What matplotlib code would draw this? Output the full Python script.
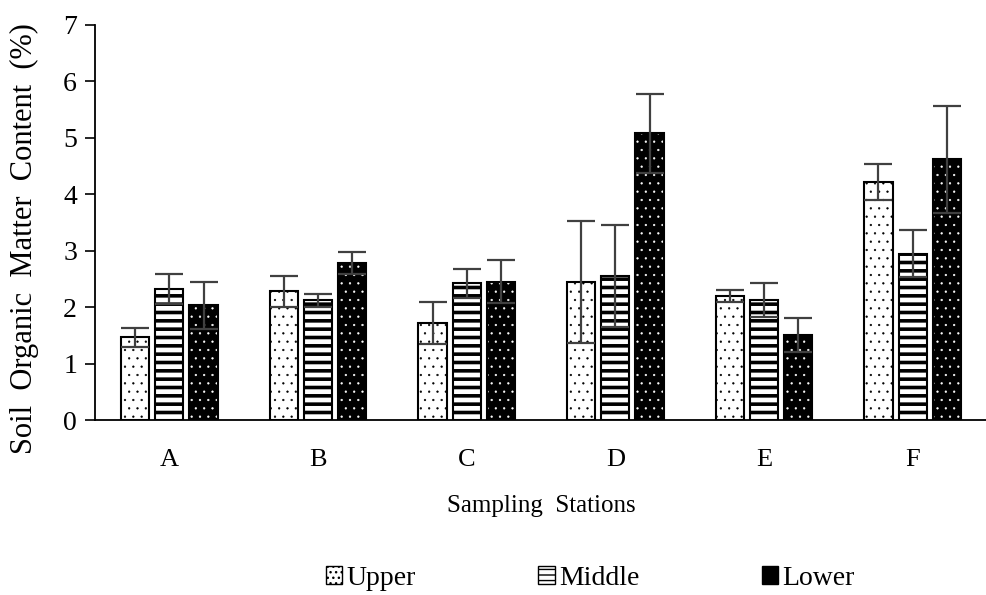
import numpy as np
import matplotlib.pyplot as plt
from matplotlib.patches import Patch

plt.rcParams['font.family'] = ['Liberation Serif', 'DejaVu Serif']

stations = ['A', 'B', 'C', 'D', 'E', 'F']
upper = [1.47, 2.28, 1.72, 2.45, 2.20, 4.22]
upper_err = [0.17, 0.28, 0.38, 1.08, 0.10, 0.32]
middle = [2.32, 2.12, 2.42, 2.55, 2.12, 2.95]
middle_err = [0.27, 0.12, 0.25, 0.90, 0.30, 0.42]
lower = [2.03, 2.78, 2.45, 5.08, 1.50, 4.62]
lower_err = [0.42, 0.20, 0.38, 0.70, 0.30, 0.95]

fig = plt.figure(figsize=(9.87, 5.95), dpi=100)
ax = fig.add_axes([0.0963, 0.294, 0.9037, 0.664])

x = np.arange(len(stations))
w = 0.19
off = 0.23
ekw = dict(ecolor='#404040', elinewidth=1.6, capsize=10, capthick=1.6)

# upper: white with small black dots
with plt.rc_context({'hatch.linewidth': 0.4}):
    ax.bar(x - off, upper, w, color='white', edgecolor='black', hatch='..', linewidth=1.5)
ax.errorbar(x - off, upper, yerr=upper_err, fmt='none', **ekw)

# middle: thick horizontal stripes
with plt.rc_context({'hatch.linewidth': 2.6}):
    ax.bar(x, middle, w, color='white', edgecolor='black', hatch='--', linewidth=1.5)
ax.errorbar(x, middle, yerr=middle_err, fmt='none', **ekw)

# lower: black with small white dots
with plt.rc_context({'hatch.linewidth': 0.4}):
    ax.bar(x + off, lower, w, color='black', edgecolor='white', hatch='..', linewidth=0)
ax.bar(x + off, lower, w, fill=False, edgecolor='black', linewidth=1.5)
ax.errorbar(x + off, lower, yerr=lower_err, fmt='none', **ekw)

ax.set_xlim(-0.5, 5.5)
ax.set_ylim(0, 7)
ax.set_yticks(range(0, 8))
ax.set_xticks(x)
ax.set_xticklabels(stations)
ax.tick_params(axis='y', length=7, width=1.2, labelsize=20, pad=6)
ax.tick_params(axis='x', length=0, labelsize=19, pad=21)
for s in ['top', 'right']:
    ax.spines[s].set_visible(False)
ax.spines['left'].set_linewidth(1.3)
ax.spines['bottom'].set_linewidth(1.3)

ax.set_xlabel('Sampling  Stations', fontsize=18, labelpad=17)
ax.set_ylabel('Soil  Organic  Matter  Content  (%)', fontsize=22)
ax.yaxis.set_label_coords(-0.063, 0.46)

with plt.rc_context({'hatch.linewidth': 0.4}):
    h_up = Patch(facecolor='white', edgecolor='black', hatch='...', label='Upper')
with plt.rc_context({'hatch.linewidth': 2.0}):
    h_mid = Patch(facecolor='white', edgecolor='black', hatch='---', label='Middle')
h_low = Patch(facecolor='black', edgecolor='black', label='Lower')
fig.legend(handles=[h_up, h_mid, h_low], loc='lower center', bbox_to_anchor=(0.598, -0.035),
           ncol=3, frameon=False, fontsize=20, handlelength=0.6, handleheight=0.6,
           handletextpad=0.15, columnspacing=4.4)

fig.savefig('out.png', dpi=100)
